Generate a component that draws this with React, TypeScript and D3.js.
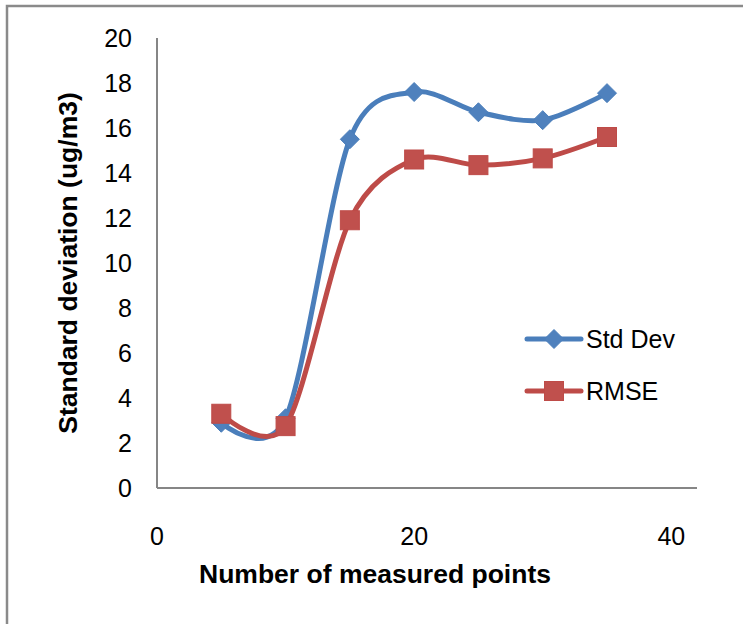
import React from "react";
import * as d3 from "d3";

// Number of measured points (x) and the two error measures (ug/m3)
const measuredPoints = [5, 10, 15, 20, 25, 30, 35];
const stdDevValues = [2.9, 3.1, 15.5, 17.6, 16.7, 16.35, 17.55];
const rmseValues = [3.3, 2.75, 11.9, 14.6, 14.35, 14.65, 15.6];

const xTicks = [0, 20, 40];
const yTicks = [0, 2, 4, 6, 8, 10, 12, 14, 16, 18, 20];

const seriesNames = ["Std Dev", "RMSE"];

const W = 743;
const H = 624;
const FONT = "'Liberation Sans', Arial, sans-serif";

const BLUE_LINE = "#4A7EBB";
const BLUE_MARK = "#4F81BD";
const RED_LINE = "#BE4B48";
const RED_MARK = "#C0504D";
const AXIS = "#868686";

export default function App() {
  const x = d3.scaleLinear().domain([0, 42]).range([157, 697]);
  const y = d3.scaleLinear().domain([0, 20]).range([488, 38]);

  const line = d3
    .line<[number, number]>()
    .x((d) => x(d[0]))
    .y((d) => y(d[1]))
    .curve(d3.curveCardinal.tension(0.1));

  const stdPts = measuredPoints.map((p, i) => [p, stdDevValues[i]] as [number, number]);
  const rmsePts = measuredPoints.map((p, i) => [p, rmseValues[i]] as [number, number]);

  const diamond = (cx: number, cy: number, r: number) =>
    `M${cx},${cy - r}L${cx + r},${cy}L${cx},${cy + r}L${cx - r},${cy}Z`;

  const [x0, x1] = x.range();
  const [yb, yt] = y.range();

  const legendX0 = 527;
  const legendX1 = 581;
  const legendY = [339, 391];

  return (
    <svg
      width={W}
      height={H}
      style={{ position: "absolute", left: 0, top: 0, background: "#fff" }}
      fontFamily={FONT}
    >
      {/* chart border */}
      <rect x={7} y={6} width={W + 20} height={H + 20} fill="#fff" stroke="#8a8a8a" strokeWidth={2.5} />

      {/* axes */}
      <line x1={x0} x2={x0} y1={yt} y2={yb} stroke={AXIS} strokeWidth={2} />
      <line x1={x0} x2={x1} y1={yb} y2={yb} stroke={AXIS} strokeWidth={2} />

      {yTicks.map((t) => (
        <text key={t} x={132} y={y(t)} dy="0.35em" textAnchor="end" fontSize={25} fill="#000">
          {t}
        </text>
      ))}
      {xTicks.map((t) => (
        <text key={t} x={x(t)} y={545} textAnchor="middle" fontSize={25} fill="#000">
          {t}
        </text>
      ))}

      {/* axis titles */}
      <text x={375} y={583} textAnchor="middle" fontSize={26.5} fontWeight="bold" fill="#000">
        Number of measured points
      </text>
      <text
        transform={`translate(77,${(yt + yb) / 2}) rotate(-90)`}
        textAnchor="middle"
        fontSize={26.5}
        fontWeight="bold"
        fill="#000"
      >
        Standard deviation (ug/m3)
      </text>

      {/* Std Dev series */}
      <path d={line(stdPts) || ""} fill="none" stroke={BLUE_LINE} strokeWidth={5} strokeLinecap="round" />
      {stdPts.map((d, i) => (
        <path key={i} d={diamond(x(d[0]), y(d[1]), 9.5)} fill={BLUE_MARK} stroke={BLUE_LINE} strokeWidth={1} />
      ))}

      {/* RMSE series */}
      <path d={line(rmsePts) || ""} fill="none" stroke={RED_LINE} strokeWidth={5} strokeLinecap="round" />
      {rmsePts.map((d, i) => (
        <rect
          key={i}
          x={x(d[0]) - 9.5}
          y={y(d[1]) - 9.5}
          width={19}
          height={19}
          fill={RED_MARK}
          stroke={RED_LINE}
          strokeWidth={1}
        />
      ))}

      {/* legend */}
      {seriesNames.map((name, i) => {
        const ly = legendY[i];
        const cx = (legendX0 + legendX1) / 2;
        return (
          <g key={name}>
            <line
              x1={legendX0}
              x2={legendX1}
              y1={ly}
              y2={ly}
              stroke={i === 0 ? BLUE_LINE : RED_LINE}
              strokeWidth={5}
              strokeLinecap="round"
            />
            {i === 0 ? (
              <path d={diamond(cx, ly, 9.5)} fill={BLUE_MARK} stroke={BLUE_LINE} strokeWidth={1} />
            ) : (
              <rect x={cx - 9.5} y={ly - 9.5} width={19} height={19} fill={RED_MARK} stroke={RED_LINE} strokeWidth={1} />
            )}
            <text x={586} y={ly} dy="0.35em" fontSize={25} fill="#000">
              {name}
            </text>
          </g>
        );
      })}
    </svg>
  );
}
